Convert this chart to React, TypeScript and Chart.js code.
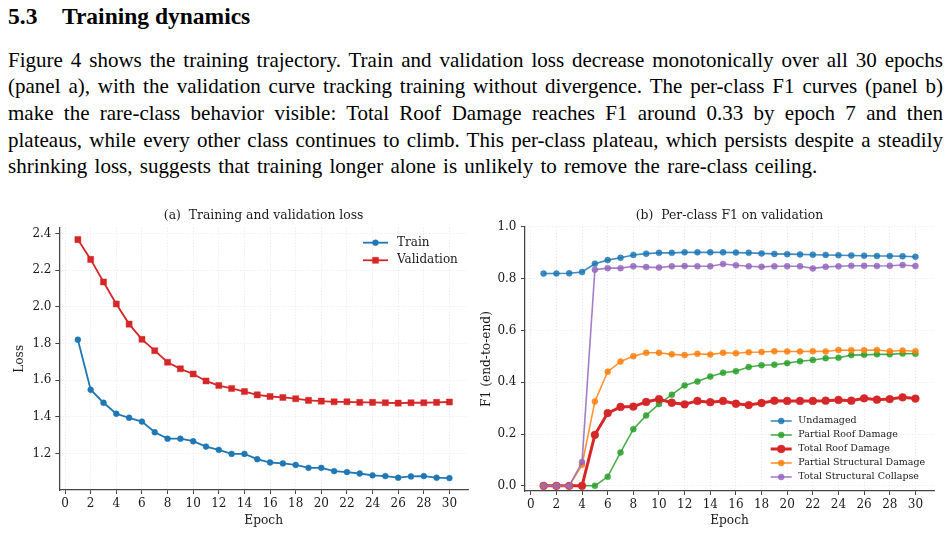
import React, { useEffect, useRef } from "react";
import { Chart, registerables } from "chart.js";

Chart.register(...registerables);

// ---------- data ----------
const epochs = [1, 2, 3, 4, 5, 6, 7, 8, 9, 10, 11, 12, 13, 14, 15, 16, 17, 18, 19, 20, 21, 22, 23, 24, 25, 26, 27, 28, 29, 30];
const trainLoss = [1.821, 1.548, 1.477, 1.417, 1.395, 1.374, 1.316, 1.281, 1.281, 1.267, 1.238, 1.220, 1.198, 1.198, 1.169, 1.151, 1.146, 1.138, 1.122, 1.122, 1.104, 1.099, 1.091, 1.081, 1.077, 1.068, 1.075, 1.077, 1.068, 1.066];
const valLoss = [2.367, 2.259, 2.136, 2.016, 1.906, 1.823, 1.761, 1.698, 1.662, 1.634, 1.596, 1.571, 1.555, 1.538, 1.520, 1.511, 1.506, 1.499, 1.490, 1.486, 1.482, 1.482, 1.479, 1.479, 1.477, 1.475, 1.477, 1.477, 1.479, 1.481];

const f1Undamaged = [0.820, 0.820, 0.821, 0.826, 0.858, 0.872, 0.881, 0.892, 0.897, 0.900, 0.900, 0.902, 0.902, 0.902, 0.902, 0.901, 0.900, 0.898, 0.896, 0.895, 0.894, 0.893, 0.892, 0.891, 0.890, 0.889, 0.888, 0.888, 0.887, 0.885];
const f1PartialRoof = [0, 0, 0, 0, 0, 0.035, 0.129, 0.219, 0.272, 0.316, 0.352, 0.388, 0.403, 0.422, 0.437, 0.443, 0.459, 0.466, 0.468, 0.474, 0.481, 0.486, 0.493, 0.495, 0.505, 0.506, 0.508, 0.508, 0.511, 0.510];
const f1TotalRoof = [0, 0, 0, 0, 0.197, 0.281, 0.305, 0.306, 0.324, 0.335, 0.321, 0.315, 0.328, 0.323, 0.328, 0.317, 0.312, 0.320, 0.329, 0.328, 0.328, 0.328, 0.329, 0.332, 0.329, 0.338, 0.333, 0.335, 0.342, 0.337];
const f1PartialStruct = [0, 0, 0, 0.081, 0.326, 0.441, 0.480, 0.501, 0.514, 0.514, 0.508, 0.505, 0.510, 0.507, 0.514, 0.512, 0.516, 0.517, 0.520, 0.519, 0.519, 0.520, 0.519, 0.525, 0.524, 0.524, 0.525, 0.520, 0.523, 0.520];
const f1TotalCollapse = [0, 0, 0, 0.092, 0.835, 0.841, 0.841, 0.848, 0.845, 0.843, 0.848, 0.849, 0.848, 0.848, 0.857, 0.852, 0.848, 0.846, 0.848, 0.848, 0.848, 0.840, 0.846, 0.848, 0.850, 0.850, 0.849, 0.850, 0.853, 0.849];

const xTicks = [0, 2, 4, 6, 8, 10, 12, 14, 16, 18, 20, 22, 24, 26, 28, 30];
const lossTicks = [1.2, 1.4, 1.6, 1.8, 2.0, 2.2, 2.4];
const f1Ticks = [0, 0.2, 0.4, 0.6, 0.8, 1.0];

const paragraphLines = [
  "Figure 4 shows the training trajectory. Train and validation loss decrease monotonically over all 30 epochs",
  "(panel a), with the validation curve tracking training without divergence. The per-class F1 curves (panel b)",
  "make the rare-class behavior visible:  Total Roof Damage reaches F1 around 0.33 by epoch 7 and then",
  "plateaus, while every other class continues to climb. This per-class plateau, which persists despite a steadily",
  "shrinking loss, suggests that training longer alone is unlikely to remove the rare-class ceiling.",
];

// ---------- styling helpers ----------
const FONT = "'DejaVu Serif', serif";
const TEXT = "#1a1a1a";
const TICK_SIZE = 12;
const LABEL_SIZE = 12.2;
const TITLE_SIZE = 12.4;

const pts = (ys: number[]) => epochs.map((e, i) => ({ x: e, y: ys[i] }));

const legendPlugin = {
  id: "inLegend",
  afterDraw(chart: any, _args: any, opts: any) {
    if (!opts || !opts.display) return;
    const { ctx, chartArea } = chart;
    const x0 = chartArea.right + opts.dx;
    const y0 = (opts.anchor === "top" ? chartArea.top : chartArea.bottom) + opts.dy;
    ctx.save();
    chart.data.datasets.forEach((ds: any, i: number) => {
      const yy = y0 + i * opts.rowH;
      ctx.strokeStyle = ds.borderColor;
      ctx.lineWidth = ds.borderWidth;
      ctx.beginPath();
      ctx.moveTo(x0, yy);
      ctx.lineTo(x0 + opts.lineLen, yy);
      ctx.stroke();
      const cx = x0 + opts.lineLen / 2;
      const r = ds.pointRadius;
      ctx.fillStyle = ds.pointBackgroundColor;
      ctx.strokeStyle = ds.pointBorderColor;
      ctx.lineWidth = ds.pointBorderWidth;
      ctx.beginPath();
      if (ds.pointStyle === "rect") {
        const s = r * Math.SQRT1_2;
        ctx.rect(cx - s, yy - s, 2 * s, 2 * s);
      } else {
        ctx.arc(cx, yy, r, 0, Math.PI * 2);
      }
      ctx.fill();
      ctx.stroke();
      ctx.fillStyle = TEXT;
      ctx.font = opts.font;
      ctx.textBaseline = "middle";
      ctx.textAlign = "left";
      ctx.fillText(ds.label, x0 + opts.lineLen + opts.gap, yy);
    });
    ctx.restore();
  },
};

function axisCommon(ticksArr: number[], fmt: (v: number) => string, fitSize: number, horizontal: boolean, pad: number) {
  return {
    type: "linear",
    afterBuildTicks: (s: any) => {
      s.ticks = ticksArr.map((v) => ({ value: v }));
    },
    afterFit: (s: any) => {
      if (horizontal) s.height = fitSize;
      else s.width = fitSize;
    },
    ticks: {
      font: { family: FONT, size: TICK_SIZE },
      color: TEXT,
      padding: pad,
      autoSkip: false,
      maxRotation: 0,
      callback: (v: any) => fmt(Number(v)),
    },
    grid: {
      color: "#e2e2e2",
      lineWidth: 0.8,
      tickColor: "#444",
      tickLength: 4,
      tickWidth: 1,
    },
    border: { color: "#444", width: 1.25, dash: [1, 2] },
  };
}

function useChart(ref: React.RefObject<HTMLCanvasElement>, makeConfig: () => any) {
  useEffect(() => {
    if (!ref.current) return;
    const chart = new Chart(ref.current, makeConfig());
    return () => chart.destroy();
  }, []);
}

function lossConfig() {
  const x: any = axisCommon(xTicks, (v) => String(v), 44, true, 3);
  x.min = -0.45;
  x.max = 31.45;
  x.title = { display: true, text: "Epoch", color: TEXT, font: { family: FONT, size: LABEL_SIZE }, padding: { top: 0, bottom: 6.0 } };
  const y: any = axisCommon(lossTicks, (v) => v.toFixed(1), 59.3, false, 3.8);
  y.min = 1.001;
  y.max = 2.432;
  y.title = { display: true, text: "Loss", color: TEXT, font: { family: FONT, size: LABEL_SIZE }, padding: { top: 12.7, bottom: 0 } };
  return {
    type: "line",
    data: {
      datasets: [
        {
          label: "Train",
          data: pts(trainLoss),
          borderColor: "#1f77b4",
          backgroundColor: "#1f77b4",
          borderWidth: 1.8,
          pointStyle: "circle",
          pointRadius: 2.9,
          pointBackgroundColor: "#1f77b4",
          pointBorderColor: "rgba(31,119,180,0.55)",
          pointBorderWidth: 1,
          order: 1,
        },
        {
          label: "Validation",
          data: pts(valLoss),
          borderColor: "#d62728",
          backgroundColor: "#d62728",
          borderWidth: 1.8,
          pointStyle: "rect",
          pointRadius: 4.3,
          pointBackgroundColor: "#d62728",
          pointBorderColor: "rgba(214,39,40,0.45)",
          pointBorderWidth: 1,
          order: 0,
        },
      ],
    },
    options: {
      animation: false,
      responsive: false,
      devicePixelRatio: 1,
      events: [],
      layout: { padding: { left: 0, right: 7, top: 0, bottom: 0 } },
      plugins: {
        legend: { display: false },
        tooltip: { enabled: false },
        title: {
          display: true,
          fullSize: false,
          text: "(a)  Training and validation loss",
          color: TEXT,
          font: { family: FONT, size: TITLE_SIZE, weight: "normal" },
          padding: { top: 8.2, bottom: 4.6 },
        },
        inLegend: {
          display: true,
          anchor: "top",
          dx: -105,
          dy: 15,
          rowH: 17.6,
          lineLen: 25,
          gap: 9,
          font: `12px ${FONT}`,
        },
      },
      scales: { x, y },
    },
    plugins: [legendPlugin],
  };
}

function f1Config() {
  const x: any = axisCommon(xTicks, (v) => String(v), 43, true, 3);
  x.min = -0.45;
  x.max = 31.45;
  x.title = { display: true, text: "Epoch", color: TEXT, font: { family: FONT, size: LABEL_SIZE }, padding: { top: 0, bottom: 6.0 } };
  const y: any = axisCommon(f1Ticks, (v) => v.toFixed(1), 50, false, 4.5);
  y.min = -0.02;
  y.max = 1.0;
  y.title = { display: true, text: "F1 (end-to-end)", color: TEXT, font: { family: FONT, size: LABEL_SIZE }, padding: { top: 5.0, bottom: 0 } };
  const thin = (label: string, rgb: string, ys: number[], order: number) => ({
    label,
    data: pts(ys),
    borderColor: `rgba(${rgb},0.85)`,
    backgroundColor: `rgba(${rgb},0.85)`,
    borderWidth: 1.6,
    pointStyle: "circle",
    pointRadius: 3.0,
    pointBackgroundColor: `rgba(${rgb},0.85)`,
    pointBorderColor: `rgba(${rgb},0.45)`,
    pointBorderWidth: 1,
    order,
  });
  return {
    type: "line",
    data: {
      datasets: [
        thin("Undamaged", "31,119,180", f1Undamaged, 4),
        thin("Partial Roof Damage", "44,160,44", f1PartialRoof, 3),
        {
          label: "Total Roof Damage",
          data: pts(f1TotalRoof),
          borderColor: "#d62728",
          backgroundColor: "#d62728",
          borderWidth: 3,
          pointStyle: "circle",
          pointRadius: 3.9,
          pointBackgroundColor: "#d62728",
          pointBorderColor: "rgba(214,39,40,0.45)",
          pointBorderWidth: 1,
          order: 2,
        },
        thin("Partial Structural Damage", "255,127,14", f1PartialStruct, 1),
        thin("Total Structural Collapse", "148,103,189", f1TotalCollapse, 0),
      ],
    },
    options: {
      animation: false,
      responsive: false,
      devicePixelRatio: 1,
      events: [],
      layout: { padding: { left: 0, right: 16, top: 0, bottom: 0 } },
      plugins: {
        legend: { display: false },
        tooltip: { enabled: false },
        title: {
          display: true,
          fullSize: false,
          text: "(b)  Per-class F1 on validation",
          color: TEXT,
          font: { family: FONT, size: TITLE_SIZE, weight: "normal" },
          padding: { top: 8.2, bottom: 3.9 },
        },
        inLegend: {
          display: true,
          anchor: "bottom",
          dx: -163.3,
          dy: -70,
          rowH: 14,
          lineLen: 21,
          gap: 6.6,
          font: `9.5px ${FONT}`,
        },
      },
      scales: { x, y },
    },
    plugins: [legendPlugin],
  };
}

function LossChart() {
  const ref = useRef<HTMLCanvasElement>(null);
  useChart(ref, lossConfig);
  return (
    <canvas
      ref={ref}
      width={475}
      height={334}
      style={{ position: "absolute", left: 0, top: 200, width: 475, height: 334 }}
    />
  );
}

function F1Chart() {
  const ref = useRef<HTMLCanvasElement>(null);
  useChart(ref, f1Config);
  return (
    <canvas
      ref={ref}
      width={475}
      height={334}
      style={{ position: "absolute", left: 475, top: 200, width: 475, height: 334 }}
    />
  );
}

export default function App() {
  const bodyFont = "'Liberation Serif', 'Times New Roman', serif";
  return (
    <div style={{ position: "absolute", left: 0, top: 0, width: 950, height: 534, background: "#fff", overflow: "hidden", color: "#000" }}>
      <div style={{ position: "absolute", left: 8, top: 5, font: `bold 23.5px ${bodyFont}`, lineHeight: "23.5px", whiteSpace: "pre" }}>5.3</div>
      <div style={{ position: "absolute", left: 62, top: 5, font: `bold 23.5px ${bodyFont}`, lineHeight: "23.5px", whiteSpace: "pre" }}>Training dynamics</div>
      {paragraphLines.map((line, i) => {
        const last = i === paragraphLines.length - 1;
        return (
          <div
            key={i}
            style={{
              position: "absolute",
              left: 8,
              top: 46.8 + i * 26.6,
              width: 935,
              font: `21px ${bodyFont}`,
              lineHeight: "26.5px",
              textAlign: last ? "left" : "justify",
              textAlignLast: last ? "left" : "justify",
              wordSpacing: last ? "2px" : undefined,
            }}
          >
            {line}
          </div>
        );
      })}
      <LossChart />
      <F1Chart />
    </div>
  );
}
